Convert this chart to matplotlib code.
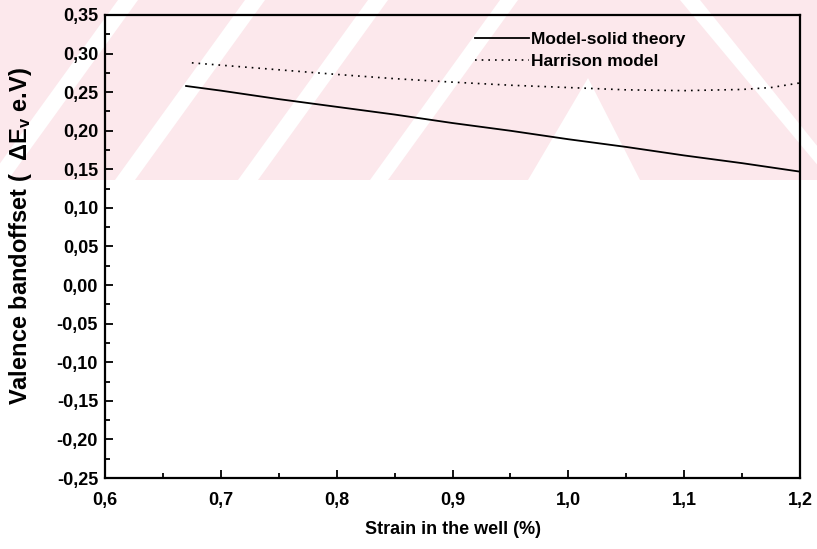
import matplotlib
matplotlib.use("Agg")
import matplotlib.pyplot as plt
import matplotlib.transforms as mtransforms
from matplotlib.patches import Polygon
from matplotlib.ticker import MultipleLocator, FuncFormatter

plt.rcParams['font.family'] = ['Liberation Sans', 'DejaVu Sans']
plt.rcParams['mathtext.default'] = 'regular'

# Model-solid theory
strain_mst = [0.67, 0.70, 0.75, 0.80, 0.85, 0.90, 0.95, 1.00, 1.05, 1.10, 1.15, 1.20]
offset_mst = [0.258, 0.252, 0.241, 0.231, 0.221, 0.210, 0.200, 0.189, 0.179, 0.168, 0.158, 0.147]

# Harrison model
strain_har = [0.675, 0.70, 0.75, 0.80, 0.85, 0.90, 0.95, 1.00, 1.05, 1.10, 1.15, 1.175, 1.20]
offset_har = [0.288, 0.285, 0.279, 0.273, 0.2675, 0.263, 0.259, 0.256, 0.253, 0.252, 0.2535, 0.256, 0.262]

series_labels = ["Model-solid theory", "Harrison model"]
x_label = "Strain in the well (%)"
y_label = r"Valence bandoffset (  $\Delta$E$_{v}$ e.V)"

W, H = 817, 549
fig = plt.figure(figsize=(W / 100, H / 100), dpi=100)
fig.patch.set_facecolor('white')

# pale background band with diagonal stripes across the top
px = mtransforms.Affine2D().scale(1 / W, -1 / H).translate(0, 1) + fig.transFigure
pink = '#fce8ec'
fig.patches.append(Polygon([(0, 0), (W, 0), (W, 180), (0, 180)], closed=True,
                           facecolor=pink, edgecolor='none', transform=px, zorder=-10))
white_shapes = [
    [(118, 0), (138, 0), (8, 180), (-12, 180)],
    [(245, 0), (265, 0), (135, 180), (115, 180)],
    [(368, 0), (388, 0), (258, 180), (238, 180)],
    [(500, 0), (518, 0), (388, 180), (370, 180)],
    [(588, 78), (640, 180), (528, 180)],
    [(680, 0), (700, 0), (830, 162), (830, 180)],
]
for shp in white_shapes:
    fig.patches.append(Polygon(shp, closed=True, facecolor='white', edgecolor='none',
                               transform=px, zorder=-9))

ax = fig.add_axes([105 / W, 1 - 478 / H, 695 / W, 463 / H])
ax.set_facecolor('none')

ax.plot(strain_mst, offset_mst, color='black', lw=1.3, ls='-', label=series_labels[0])
ax.plot(strain_har, offset_har, color='black', lw=1.2, ls=(0, (1.0, 3.0)), label=series_labels[1])

ax.set_xlim(0.6, 1.2)
ax.set_ylim(-0.25, 0.35)
ax.xaxis.set_major_locator(MultipleLocator(0.1))
ax.xaxis.set_minor_locator(MultipleLocator(0.05))
ax.yaxis.set_major_locator(MultipleLocator(0.05))
ax.yaxis.set_minor_locator(MultipleLocator(0.025))


def comma_fmt(decimals):
    def f(v, pos):
        v = round(v, decimals)
        if v == 0:
            v = 0.0
        return f"{v:.{decimals}f}".replace('.', ',')
    return FuncFormatter(f)


ax.xaxis.set_major_formatter(comma_fmt(1))
ax.yaxis.set_major_formatter(comma_fmt(2))

for s in ax.spines.values():
    s.set_linewidth(1.6)
ax.tick_params(which='both', direction='in', top=False, right=False, width=1.3)
ax.tick_params(which='major', length=6, labelsize=13)
ax.tick_params(axis='y', which='major', pad=5)
ax.tick_params(axis='x', which='major', pad=10)
ax.tick_params(which='minor', length=3.5)
for lbl in ax.get_xticklabels() + ax.get_yticklabels():
    lbl.set_fontweight('bold')

ax.set_xlabel(x_label, fontsize=13, fontweight='bold')
ax.set_ylabel(y_label, fontsize=17, fontweight='bold')
ax.xaxis.set_label_coords(0.5, -(521 - 478) / 463)
ax.yaxis.set_label_coords((34 - 105) / 695, 1 - (236 - 15) / 463)

leg = ax.legend(loc='upper left', bbox_to_anchor=((468 - 105) / 695, 1.0 - 10 / 463),
                frameon=False, handlelength=3.1, handletextpad=0.1,
                labelspacing=0.4, borderaxespad=0,
                prop={'size': 12.5, 'weight': 'bold'})

fig.savefig('out.png', dpi=100, facecolor='white')
